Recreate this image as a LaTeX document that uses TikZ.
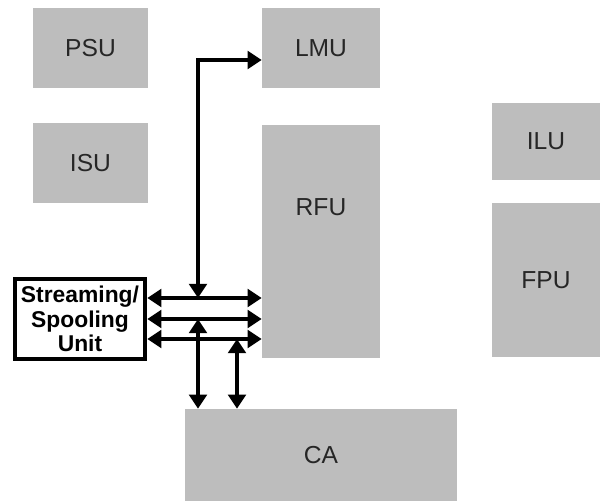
\documentclass[tikz,border=0pt]{standalone}
\usepackage{fontspec}
\setmainfont{Liberation Sans}
\usetikzlibrary{positioning,arrows.meta}
\colorlet{UnitFill}{black!26}
\colorlet{UnitText}{black!85}

\begin{document}
\begin{tikzpicture}[x=0.02cm,y=-0.02cm,
    unit/.style={fill=UnitFill,inner sep=0pt,text=UnitText,font=\fontsize{14}{16}\selectfont},
    spool/.style={draw,line width=2.6pt,inner sep=0pt,align=center,font=\bfseries\fontsize{13}{13.8}\selectfont},
    bus/.style={line width=1.9pt,{Triangle[length=8pt,width=10pt]}-{Triangle[length=8pt,width=10pt]}}]
  \useasboundingbox (0,0) rectangle (600,501);
  % units
  \node[unit,minimum width=2.3cm,minimum height=1.6cm] (psu) at (90.5,48) {PSU};
  \node[unit,minimum width=2.3cm,minimum height=1.6cm] (isu) at (90.5,163) {ISU};
  \node[unit,minimum width=2.36cm,minimum height=1.6cm] (lmu) at (321,48) {LMU};
  \node[unit,minimum width=2.36cm,minimum height=4.66cm,
    label={[unit,fill=none,anchor=center,yshift=-1.64cm]north:RFU}] (rfu) at (321,241.5) {};
  \node[unit,minimum width=2.16cm,minimum height=1.54cm] (ilu) at (546,141.5) {ILU};
  \node[unit,minimum width=2.16cm,minimum height=3.08cm] (fpu) at (546,280) {FPU};
  \node[unit,minimum width=5.44cm,minimum height=1.84cm] (ca) at (321,455) {CA};
  \node[spool,minimum width=2.6cm,minimum height=1.6cm] (ssu) at (80,319) {Streaming/\\Spooling\\Unit};
  % bus lines
  \coordinate (h1) at (200,298);
  \coordinate (h2) at (200,319);
  \coordinate (h3) at (200,339);
  \coordinate (v1) at (198,0);
  \coordinate (v2) at (237,0);
  \draw[bus] (ssu.east |- h1) -- (rfu.west |- h1);
  \draw[bus] (ssu.east |- h2) -- (rfu.west |- h2);
  \draw[bus] (ssu.east |- h3) -- (rfu.west |- h3);
  \draw[bus] (v1 |- h1) |- ([yshift=-0.24cm]lmu.west);
  \draw[bus] (v1 |- h2) -- (v1 |- ca.north);
  \draw[bus] (v2 |- h3) -- (v2 |- ca.north);
\end{tikzpicture}
\end{document}
